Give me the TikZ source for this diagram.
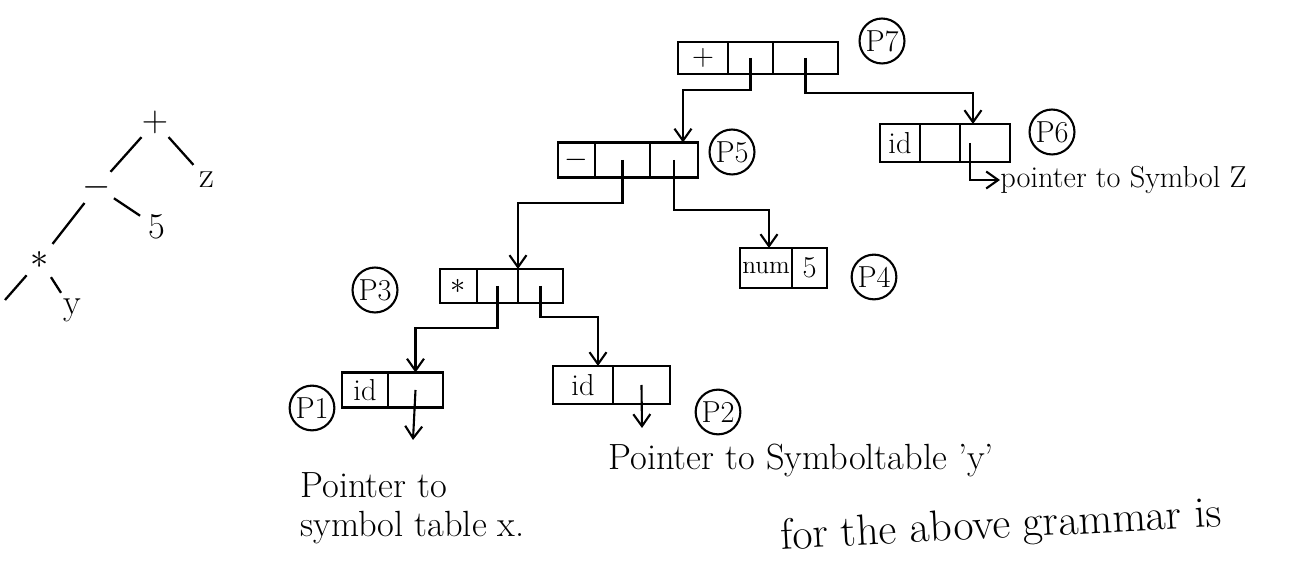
\documentclass[tikz,border=0pt]{standalone}
\usetikzlibrary{positioning,arrows.meta}

\tikzset{
  cell/.style={draw, line width=1.2pt, outer sep=0pt, inner sep=0pt, font=\LARGE},
  tag/.style={draw, circle, line width=1.2pt, inner sep=1.2pt, font=\LARGE},
  ptr/.style={line width=1.2pt, -{Straight Barb[length=2.4mm,width=3.4mm]}},
  tnode/.style={circle, inner sep=0pt, minimum size=0.8cm, font=\huge},
  branch/.style={line width=1.3pt},
  note/.style={font=\huge, anchor=west, inner sep=0pt}
}

\begin{document}
\begin{tikzpicture}[x=0.02cm,y=-0.02cm]
  \clip (0,0) rectangle (1298,563);

  % expression tree
  \node[tnode] (plus) at (155,122) {$+$};
  \node[tnode] (minus) at (97,187) {$-$};
  \node[tnode] (zleaf) at (207,180) {z};
  \node[tnode] (five) at (157,227) {5};
  \node[tnode] (star) at (40,260) {$*$};
  \node[tnode] (yleaf) at (72,310) {y};
  \coordinate (xleaf) at (5,300);
  \draw[branch] (plus) -- (minus);
  \draw[branch] (plus) -- (zleaf);
  \draw[branch] (minus) -- (star);
  \draw[branch] (minus) -- (five);
  \draw[branch] (star) -- (xleaf);
  \draw[branch] (star) -- (yleaf);

  % records of the syntax tree
  \node[cell, minimum width=1cm, minimum height=0.64cm] (p7a) at (703,58) {$+$};
  \node[cell, minimum width=0.9cm, minimum height=0.64cm, right=0pt of p7a] (p7b) {};
  \node[cell, minimum width=1.3cm, minimum height=0.64cm, right=0pt of p7b] (p7c) {};
  \node[tag] (t7) at (882,41) {P7};

  \node[cell, minimum width=0.74cm, minimum height=0.7cm] (p5a) at (576.5,160) {$-$};
  \node[cell, minimum width=1.1cm, minimum height=0.7cm, right=0pt of p5a] (p5b) {};
  \node[cell, minimum width=0.96cm, minimum height=0.7cm, right=0pt of p5b] (p5c) {};
  \node[tag] (t5) at (732,152) {P5};

  \node[cell, minimum width=0.8cm, minimum height=0.76cm] (p6a) at (900,143) {id};
  \node[cell, minimum width=0.8cm, minimum height=0.76cm, right=0pt of p6a] (p6b) {};
  \node[cell, minimum width=1cm, minimum height=0.76cm, right=0pt of p6b] (p6c) {};
  \node[tag] (t6) at (1052,132) {P6};

  \node[cell, minimum width=1.04cm, minimum height=0.8cm, font=\Large] (p4a) at (766,268) {num};
  \node[cell, minimum width=0.7cm, minimum height=0.8cm, right=0pt of p4a] (p4b) {5};
  \node[tag] (t4) at (874,277) {P4};

  \node[cell, minimum width=0.74cm, minimum height=0.68cm] (p3a) at (458.5,286) {$*$};
  \node[cell, minimum width=0.82cm, minimum height=0.68cm, right=0pt of p3a] (p3b) {};
  \node[cell, minimum width=0.9cm, minimum height=0.68cm, right=0pt of p3b] (p3c) {};
  \node[tag] (t3) at (375,290) {P3};

  \node[cell, minimum width=0.92cm, minimum height=0.7cm] (p1a) at (365,390) {id};
  \node[cell, minimum width=1.1cm, minimum height=0.7cm, right=0pt of p1a] (p1b) {};
  \node[tag] (t1) at (312,408) {P1};

  \node[cell, minimum width=1.2cm, minimum height=0.76cm] (p2a) at (583,385) {id};
  \node[cell, minimum width=1.14cm, minimum height=0.76cm, right=0pt of p2a] (p2b) {};
  \node[tag] (t2) at (718,412) {P2};

  % pointers between records
  \draw[ptr] (p7b.center) -- ++(0,32) -| ([xshift=0.18cm]p5c.north);
  \draw[ptr] (p7c.center) -- ++(0,35) -| ([xshift=-0.24cm]p6c.north);
  \draw[ptr] (p5b.center) -- ++(0,43) -| (p3b.north east);
  \draw[ptr] (p5c.center) -- ++(0,50) -| ([xshift=0.06cm]p4a.north);
  \draw[ptr] (p3b.center) -- ++(0,42) -| (p1b.north);
  \draw[ptr] (p3c.center) -- ++(0,31) -| ([xshift=0.3cm]p2a.north);

  % pointers into the symbol table
  \node[note, font=\LARGE] (symz) at (1000,180) {pointer to Symbol Z};
  \draw[ptr] ([xshift=-0.3cm]p6c.center) |- (symz.west);
  \coordinate (symx) at (413,440);
  \draw[ptr] (p1b.center) -- (symx);
  \coordinate (symy) at (642,428);
  \draw[ptr] (p2b.center) -- (symy);
  \node[note] (noty) at (608,460) {Pointer to Symboltable 'y'};
  \node[note] (notx1) at (300,485) {Pointer to};
  \node[note] (notx2) at (300,528) {symbol table x.};

  \node[font=\Huge, anchor=base west, rotate=3] (gram) at (775,550) {for the above grammar is};
\end{tikzpicture}
\end{document}
